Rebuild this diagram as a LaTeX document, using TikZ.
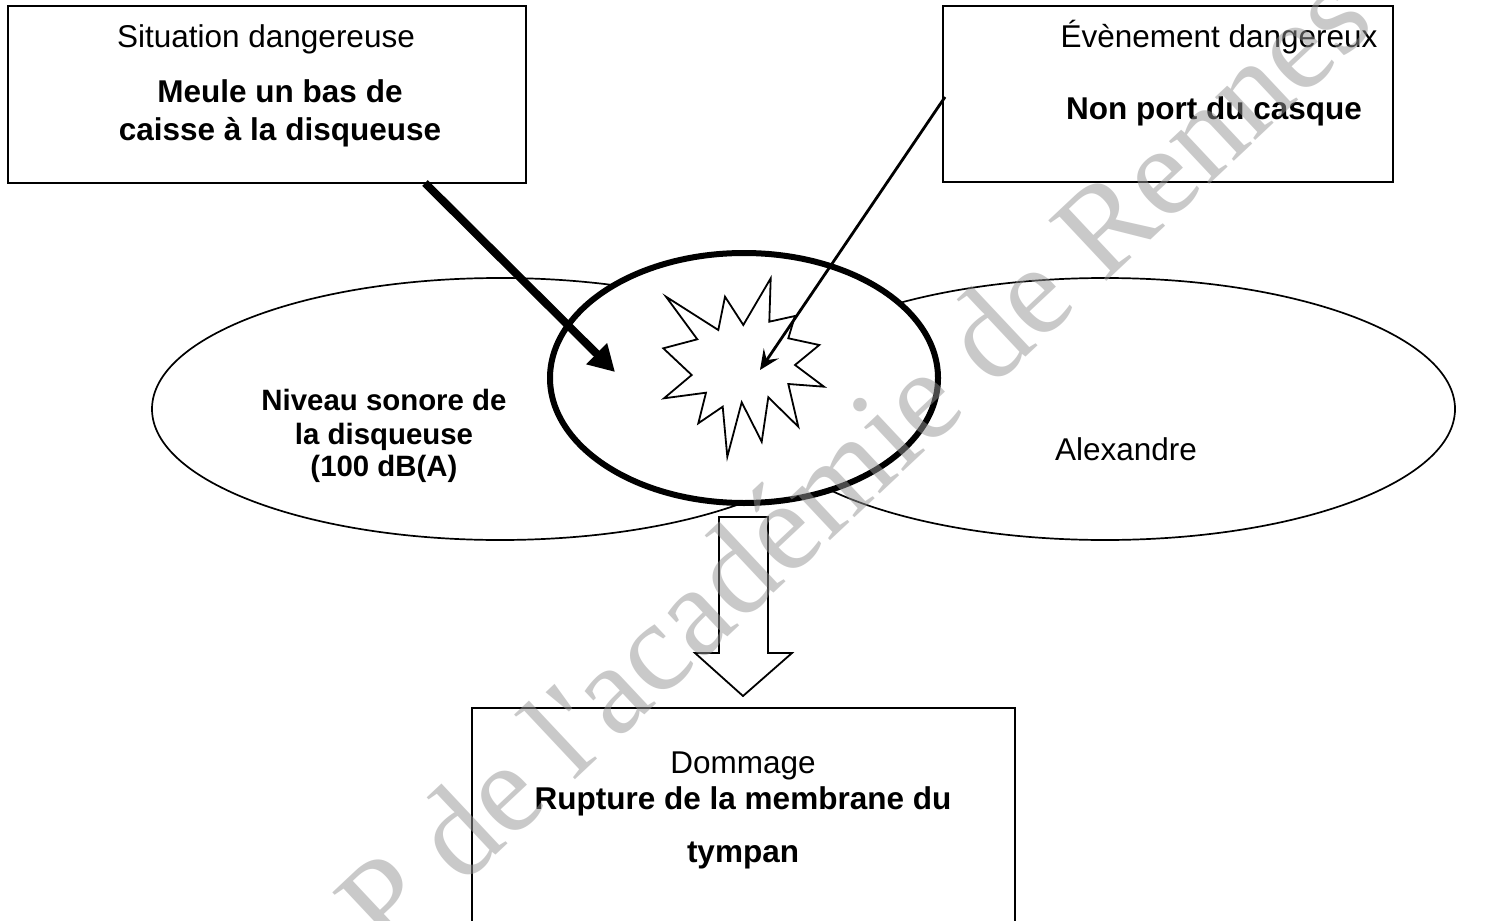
\documentclass[tikz,border=0pt]{standalone}
\usepackage{fontspec}
\setmainfont{Liberation Sans}
\newfontfamily\wmfont{Liberation Serif}
\usetikzlibrary{arrows.meta,shapes.geometric}
\tikzset{
  boxnode/.style={draw, line width=1.8pt, inner sep=0pt},
  thinell/.style={draw, ellipse, line width=1.7pt, inner sep=0pt},
  reg/.style={anchor=base, inner sep=0pt, font=\fontsize{31.5}{38}\selectfont},
  bld/.style={anchor=base, inner sep=0pt, font=\fontsize{31.5}{38}\selectfont\bfseries},
  bldsmall/.style={anchor=base, inner sep=0pt, font=\fontsize{29.4}{33}\selectfont\bfseries},
  watermark/.style={anchor=base west, inner sep=0pt, rotate=43.2, text=black!42, text opacity=0.5, font=\fontsize{128}{128}\selectfont\wmfont}
}
\begin{document}
\begin{tikzpicture}[x=1pt,y=-1pt]
\useasboundingbox (0,0) rectangle (1503,920);
\clip (0,0) rectangle (1503,920);
\fill[white] (0,0) rectangle (1503,920);

% top boxes
\node[boxnode, minimum width=518pt, minimum height=177pt] (sit) at (267,94.5) {};
\node[boxnode, minimum width=450pt, minimum height=176pt] (evt) at (1168,94) {};
\node[reg] (sitT) at (266,48) {Situation dangereuse};
\node[bld] (sitA) at (280,103) {Meule un bas de};
\node[bld] (sitB) at (280,141) {caisse à la disqueuse};
\node[reg] (evtT) at (1219,48) {Évènement dangereux};
\node[bld] (evtA) at (1214,120) {Non port du casque};

% ellipses
\node[thinell, minimum width=696pt, minimum height=262pt] (left) at (500,409) {};
\node[thinell, minimum width=700pt, minimum height=262pt] (right) at (1105,409) {};
\node[draw, fill=white, line width=6pt, ellipse, inner sep=0pt, minimum width=388pt, minimum height=250pt] (core) at (744,378) {};

% star
\draw[line width=1.8pt, fill=white, line join=miter]
 (666,296.7) -- (718.3,330) -- (725,296.7) -- (743.3,325) -- (770.7,278.3)
 -- (769.3,321.7) -- (795,316) -- (788.3,338.3) -- (819.3,345) -- (795,365)
 -- (824,386.7) -- (788.3,384) -- (798.3,426.7) -- (768.3,397.3) -- (761.7,441.7)
 -- (741.7,402.3) -- (727.3,456.7) -- (722.7,406.7) -- (698.3,423.3) -- (706,392.7)
 -- (664,398.3) -- (691.7,375) -- (663.3,348.3) -- (697.3,339.3) -- cycle;

% ellipse texts
\node[bldsmall] (n1) at (384,410) {Niveau sonore de};
\node[bldsmall] (n2) at (384,444) {la disqueuse};
\node[bldsmall] (n3) at (384,476) {(100 dB(A)};
\node[reg] (alex) at (1126,460) {Alexandre};

% arrows
\coordinate (a1s) at (425,183);
\coordinate (a1e) at (615,372);
\draw[line width=8pt, -{Triangle[length=26pt,width=28pt]}] (a1s) -- (a1e);
\coordinate (a2s) at (945,97);
\coordinate (a2e) at (760,370);
\draw[line width=2.8pt, -{Stealth[length=20pt,width=18pt,inset=8pt]}] (a2s) -- (a2e);

% block arrow
\draw[line width=1.8pt, fill=white, line join=miter] (719,517) -- (768,517) -- (768,653) -- (792,653) -- (743,696) -- (695,653) -- (719,653) -- cycle;

% bottom box
\node[boxnode, minimum width=543pt, minimum height=300pt] (dom) at (743.5,858) {};
\node[reg] (domT) at (743,773) {Dommage};
\node[bld] (domA) at (743,809) {Rupture de la membrane du};
\node[bld] (domB) at (743,862) {tympan};

% watermark
\node[watermark] (wm) at (387,957) {P de l'académie de Rennes};
\end{tikzpicture}
\end{document}
